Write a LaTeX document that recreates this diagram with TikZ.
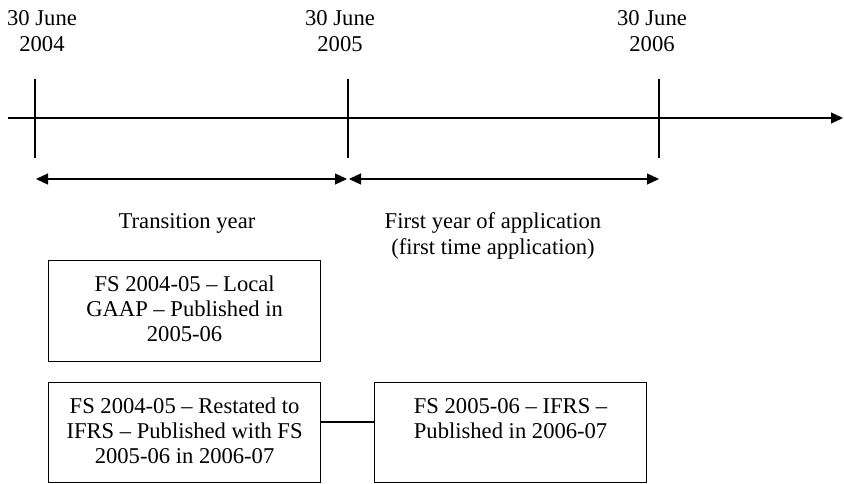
\documentclass[tikz,border=0pt]{standalone}
\usepackage{fontspec}
\setmainfont{Liberation Serif}
\usetikzlibrary{arrows.meta}
\begin{document}
\begin{tikzpicture}[x=1pt,y=-1pt,
  line width=1.2pt,
  tip/.style={-{Triangle[length=12pt,width=11pt]}},
  dtip/.style={{Triangle[length=12pt,width=11pt]}-{Triangle[length=12pt,width=11pt]}},
  lbl/.style={align=center,inner sep=0pt,anchor=north,font=\fontsize{22.6}{25.5}\selectfont},
  fsbox/.style={draw,inner sep=0pt,anchor=north west,line width=1.2pt}
]
\useasboundingbox (0,0) rectangle (844,484);
% timeline
\coordinate (ls) at (8,118);
\coordinate (le) at (843,118);
\draw[tip] (ls) -- (le);
% ticks
\coordinate (t1a) at (35,79); \coordinate (t1b) at (35,158);
\coordinate (t2a) at (348,79); \coordinate (t2b) at (348,158);
\coordinate (t3a) at (659,79); \coordinate (t3b) at (659,158);
\draw (t1a) -- (t1b);
\draw (t2a) -- (t2b);
\draw (t3a) -- (t3b);
% period arrows
\coordinate (p1a) at (36,179); \coordinate (p1b) at (347,179);
\coordinate (p2a) at (349,179); \coordinate (p2b) at (659,179);
\draw[dtip] (p1a) -- (p1b);
\draw[dtip] (p2a) -- (p2b);
% date labels
\node[lbl] (d1) at (42,0) {\rule{0pt}{25pt}30 June\\2004};
\node[lbl] (d2) at (340,0) {\rule{0pt}{25pt}30 June\\2005};
\node[lbl] (d3) at (652,0) {\rule{0pt}{25pt}30 June\\2006};
% period labels
\node[lbl] (pl1) at (187,203) {\rule{0pt}{25pt}Transition year};
\node[lbl] (pl2) at (493,203) {\rule{0pt}{25pt}First year of application\\(first time application)};
% boxes
\node[fsbox] (b1) at (48,260) {\parbox[c][101pt][t]{272pt}{\fontsize{22.6}{25}\selectfont\centering\rule{0pt}{31pt}FS 2004-05 – Local\\GAAP – Published in\\2005-06}};
\node[fsbox] (b2) at (48,382) {\parbox[c][100pt][t]{272pt}{\fontsize{22.6}{25}\selectfont\centering\rule{0pt}{31pt}FS 2004-05 – Restated to\\IFRS – Published with FS\\2005-06 in 2006-07}};
\node[fsbox] (b3) at (374,382) {\parbox[c][100pt][t]{272pt}{\fontsize{22.6}{25}\selectfont\centering\rule{0pt}{31pt}FS 2005-06 – IFRS –\\Published in 2006-07}};
\draw (b2.east |- 0,422) -- (b3.west |- 0,422);
\end{tikzpicture}
\end{document}
